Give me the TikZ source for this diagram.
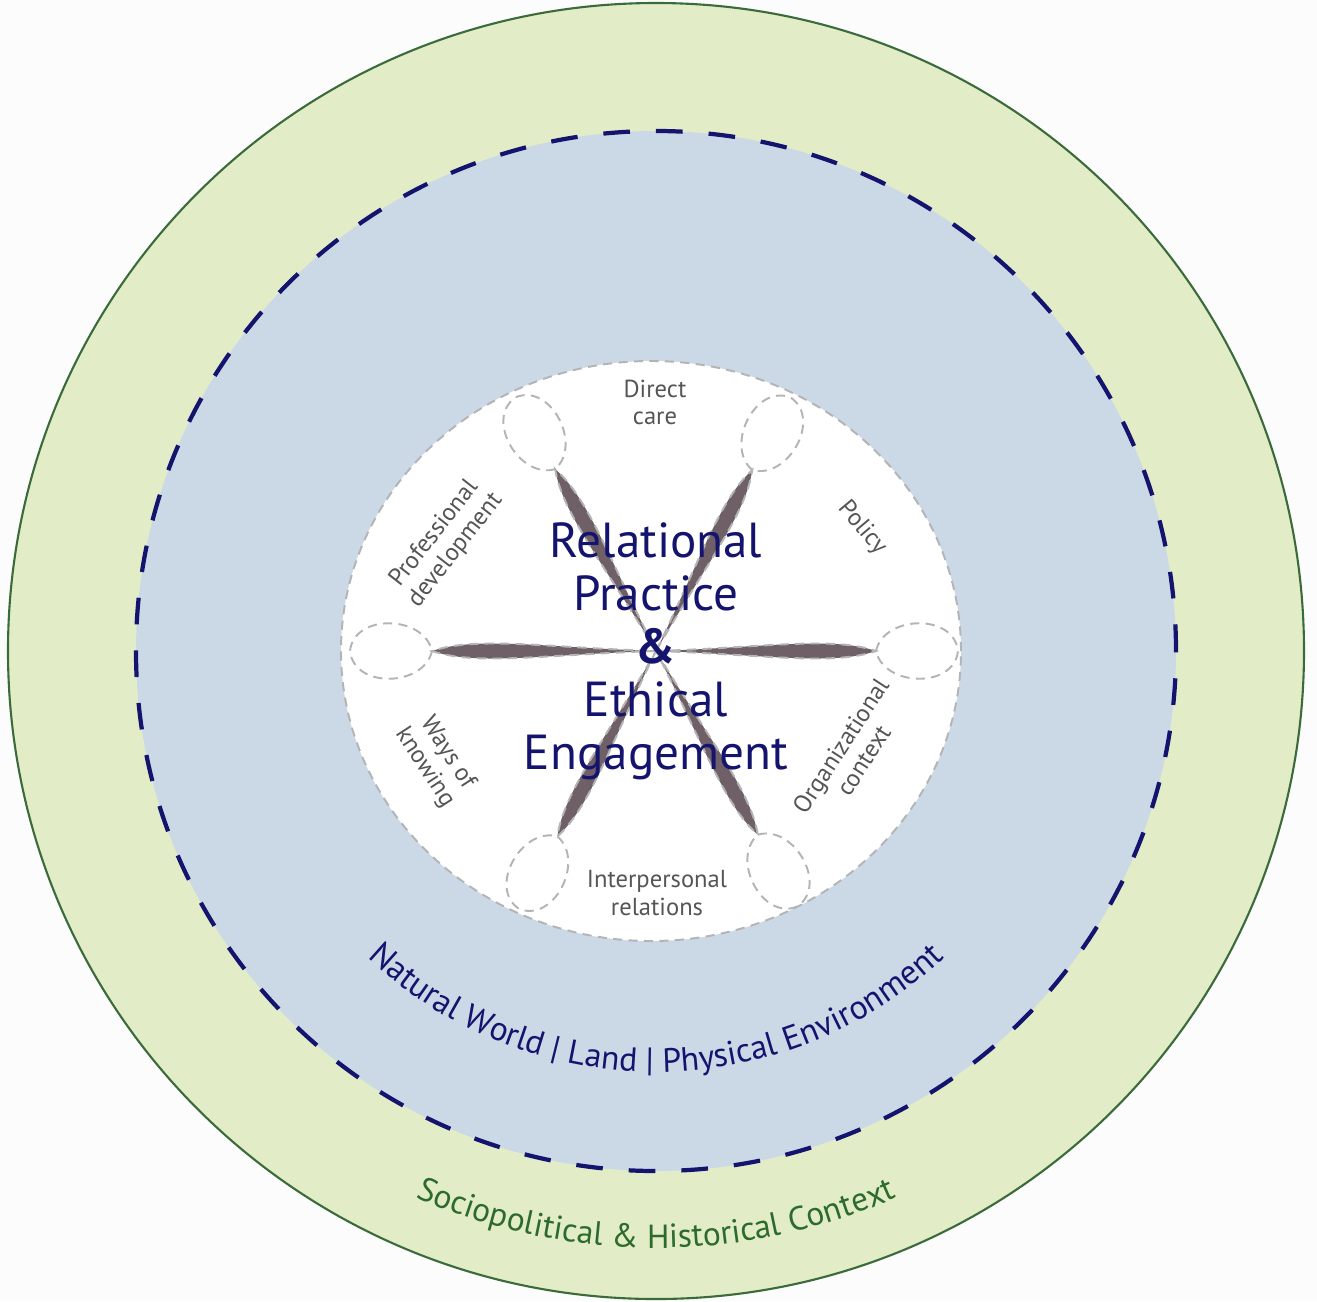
\documentclass[tikz,border=0pt]{standalone}
\usepackage{fontspec}
\setmainfont{PT Sans}
\usetikzlibrary{decorations.text}

\definecolor{paper}{HTML}{FCFCFC}
\definecolor{ctxgreen}{HTML}{E2EDC7}
\definecolor{ctxline}{HTML}{3B6B3B}
\definecolor{ctxtext}{HTML}{2D6A2D}
\definecolor{envblue}{HTML}{CBD9E7}
\definecolor{navy}{HTML}{14146E}
\definecolor{petal}{HTML}{6F6068}
\definecolor{dashgray}{HTML}{B4B4B4}
\definecolor{labelgray}{HTML}{555555}

\begin{document}
\begin{tikzpicture}[
    theme/.style={font=\fontsize{7}{7.7}\selectfont, text=labelgray, align=center},
    tipline/.style={draw=dashgray, line width=0.55pt, dash pattern=on 2.6pt off 1.8pt}
  ]
  \useasboundingbox (-6.56,-6.50) rectangle (6.61,6.51);
  \fill[paper] (-6.56,-6.50) rectangle (6.61,6.51);

  % sociopolitical ring
  \filldraw[fill=ctxgreen, draw=ctxline, line width=0.6pt] (0,0) circle (6.48);

  % natural world
  \fill[envblue] (0,0) circle (5.2);
  \draw[navy, line width=1.2pt, dash pattern=on 7.6pt off 7.39pt] (0,0) circle (5.2);

  % relational core
  \filldraw[fill=white, tipline] (-0.05,0) ellipse (3.1 and 2.9);

  % petals and tip loops
  \foreach \a/\l in {0/2.2, 62/2.05, 119/2.08, 180/2.24, 242/2.1, 299/2.1} {
    \filldraw[fill=petal, tipline, rotate=\a]
      (0,0) .. controls ({0.5*\l},0.035) and ({0.8*\l},0.15) .. (\l,0)
            .. controls ({0.8*\l},-0.15) and ({0.5*\l},-0.035) .. (0,0);
    \draw[tipline, rotate=\a]
      (\l,0) .. controls ({\l+0.08},0.36) and ({\l+0.78},0.38) .. ({\l+0.82},0)
             .. controls ({\l+0.78},-0.38) and ({\l+0.08},-0.36) .. (\l,0);
  }

  \node[text=navy, align=center, font=\fontsize{14}{15.1}\selectfont] (core) at (0,0)
    {Relational\\Practice\\\textbf{\&}\\Ethical\\Engagement};

  % themes round the core
  \node[theme] (direct) at (-0.01,2.49) {Direct\\care};
  \node[theme, rotate=-50] (policy) at (2.06,1.23) {Policy};
  \node[theme, rotate=57] (orgctx) at (1.96,-1.02) {Organizational\\context};
  \node[theme] (interp) at (0.01,-2.42) {Interpersonal\\relations};
  \node[theme, rotate=-57] (knowing) at (-2.2,-1.09) {Ways of\\knowing};
  \node[theme, rotate=52] (profdev) at (-2.11,1.09) {Professional\\development};

  % ring labels
  \path[decorate, decoration={text along path, text format delimiters={[}{]},
      text={[\fontsize{9.6}{11}\selectfont]Natural World | Land | Physical Environment},
      text color=navy, text align=center}]
    (225:4.21) arc[start angle=225, end angle=315, radius=4.21];
  \path[decorate, decoration={text along path, text format delimiters={[}{]},
      text={[\fontsize{9.5}{11}\selectfont]Sociopolitical {\&} Historical Context},
      text color=ctxtext, text align=center}]
    (235:5.97) arc[start angle=235, end angle=305, radius=5.97];
\end{tikzpicture}
\end{document}
